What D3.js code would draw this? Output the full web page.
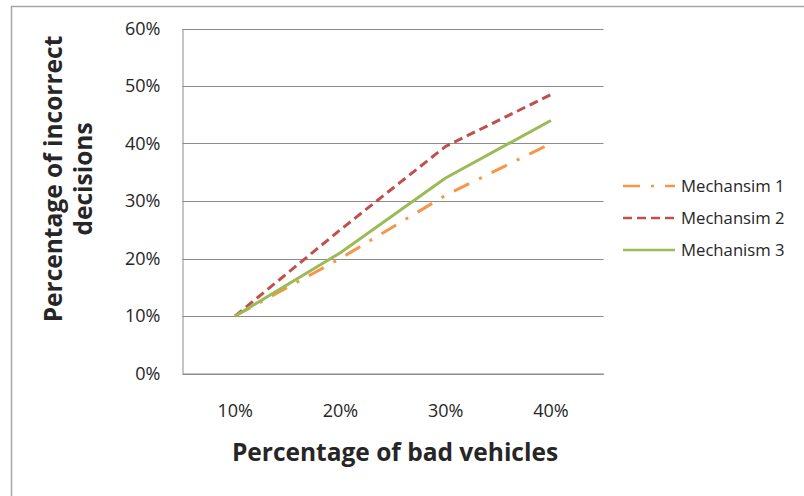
<!DOCTYPE html>
<html>
<head>
<meta charset="utf-8">
<script src="https://cdn.jsdelivr.net/npm/d3@7"></script>
<style>
  html, body { margin: 0; padding: 0; background: #fff; }
  svg { display: block; }
  text { font-family: "Open Sans", "Liberation Sans", sans-serif; fill: #262626; }
</style>
</head>
<body>
<svg id="chart" width="804" height="496"></svg>
<script>
// Share of bad vehicles in the network (x categories)
const categories = ["10%", "20%", "30%", "40%"];

// Share of incorrect decisions per mechanism
const mechanism1 = [0.10, 0.20, 0.31, 0.40];
const mechanism2 = [0.10, 0.25, 0.395, 0.485];
const mechanism3 = [0.10, 0.21, 0.34, 0.44];

const seriesNames = ["Mechansim 1", "Mechansim 2", "Mechanism 3"];
const yTicks = [0, 0.1, 0.2, 0.3, 0.4, 0.5, 0.6];

const series = [
  { name: seriesNames[0], values: mechanism1, color: "#F79646", dash: "17,11,3,11" },
  { name: seriesNames[1], values: mechanism2, color: "#C0504D", dash: "9,5" },
  { name: seriesNames[2], values: mechanism3, color: "#9BBB59", dash: null }
];

const svg = d3.select("#chart");

// outer chart frame
svg.append("rect")
  .attr("x", 11.5).attr("y", 6.5)
  .attr("width", 820).attr("height", 520)
  .attr("fill", "#fff")
  .attr("stroke", "#a6a6a6").attr("stroke-width", 1.5);

const plot = { left: 182.5, right: 603.5, top: 28.5, bottom: 373.5 };

const x = d3.scaleBand()
  .domain(categories)
  .range([plot.left, plot.right]);

const y = d3.scaleLinear()
  .domain([0, 0.6])
  .range([plot.bottom, plot.top]);

// horizontal gridlines
svg.append("g")
  .selectAll("line")
  .data(yTicks)
  .join("line")
  .attr("x1", plot.left).attr("x2", plot.right)
  .attr("y1", d => Math.round(y(d)) + 0.5).attr("y2", d => Math.round(y(d)) + 0.5)
  .attr("stroke", "#8c8c8c").attr("stroke-width", 1);

// y axis
const yAxis = svg.append("g")
  .attr("transform", `translate(${plot.left},0)`)
  .call(d3.axisLeft(y).tickValues(yTicks).tickFormat(d3.format(".0%")).tickSize(0).tickPadding(22));
yAxis.select(".domain").attr("stroke", "#8c8c8c");
yAxis.selectAll("text")
  .style("font-size", "18px")
  .style("font-family", "'Open Sans', sans-serif")
  .attr("fill", "#262626");

// x axis
const xAxis = svg.append("g")
  .attr("transform", `translate(0,${plot.bottom})`)
  .call(d3.axisBottom(x).tickSize(0).tickPadding(31));
xAxis.select(".domain").attr("stroke", "#8c8c8c");
xAxis.selectAll("text")
  .style("font-size", "18px")
  .style("font-family", "'Open Sans', sans-serif")
  .attr("fill", "#262626");

// series lines
const line = d3.line()
  .x((d, i) => x(categories[i]) + x.bandwidth() / 2)
  .y(d => y(d));

svg.append("g")
  .selectAll("path")
  .data(series)
  .join("path")
  .attr("d", d => line(d.values))
  .attr("fill", "none")
  .attr("stroke", d => d.color)
  .attr("stroke-width", 3)
  .attr("stroke-dasharray", d => d.dash)
  .attr("stroke-linejoin", "round");

// legend
const legend = svg.append("g");
const legendY = [186, 218, 250];
series.forEach((s, i) => {
  legend.append("line")
    .attr("x1", 623).attr("x2", 675)
    .attr("y1", legendY[i]).attr("y2", legendY[i])
    .attr("stroke", s.color).attr("stroke-width", 2.5)
    .attr("stroke-dasharray", s.dash);
  legend.append("text")
    .attr("x", 681).attr("y", legendY[i])
    .attr("dy", "0.35em")
    .style("font-size", "16.7px")
    .text(s.name);
});

// axis titles
svg.append("text")
  .attr("x", (plot.left + plot.right) / 2 + 2)
  .attr("y", 461)
  .attr("text-anchor", "middle")
  .style("font-size", "24.5px")
  .style("font-weight", "bold")
  .attr("fill", "#000")
  .text("Percentage of bad vehicles");

const yTitle = svg.append("text")
  .attr("transform", "translate(0,179) rotate(-90)")
  .attr("text-anchor", "middle")
  .style("font-size", "24.5px")
  .style("font-weight", "bold")
  .attr("fill", "#000");
yTitle.append("tspan").attr("x", 0).attr("y", 62).text("Percentage of incorrect");
yTitle.append("tspan").attr("x", 0).attr("y", 92).text("decisions");
</script>
</body>
</html>
